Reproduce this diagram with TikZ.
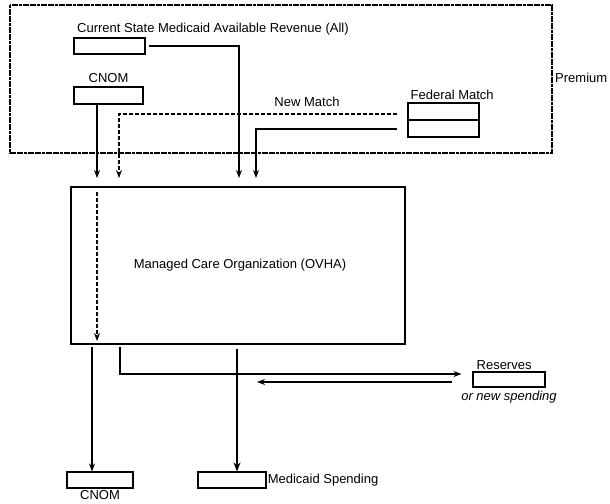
\documentclass[tikz,border=0pt]{standalone}
\usepackage{fontspec}
\setmainfont{Liberation Sans}
\usetikzlibrary{arrows.meta}

\begin{document}
\begin{tikzpicture}[
    x=1pt, y=-1pt, every node/.style={font=\fontsize{13}{15}\selectfont},
    accBox/.style={rectangle, draw, line width=1.1pt, inner sep=0pt, minimum width=70pt, minimum height=16pt},
    mcoBox/.style={rectangle, draw, line width=1.8pt, minimum width=334pt, minimum height=157pt},
    premBox/.style={draw, line width=1.1pt, dash pattern=on 3pt off 0.6pt},
    flow/.style={draw, line width=1.2pt, -{Stealth[length=8pt, width=6pt]}},
    newFlow/.style={flow, dash pattern=on 4pt off 2pt},
    bigFlow/.style={flow, line width=2.8pt, -{Stealth[length=9pt, width=7pt]}}
]
    \useasboundingbox (0,0) rectangle (610,503);

    \draw[premBox] (10,5) rectangle (552,153);
    \node[anchor=west, inner sep=1pt] (prem) at (554,78) {Premium};

    \node[accBox, minimum width=71pt] (rev) at (109.5,46) {};
    \node[anchor=south west, inner sep=1pt] (revLbl) at (76,36) {Current State Medicaid Available Revenue (All)};
    \node[accBox, minimum width=69pt, minimum height=17pt] (cnomIn) at (108.5,95.5) {};
    \node[above=0pt] (cnomInLbl) at (cnomIn.north) {CNOM};
    \node[accBox, minimum width=71pt, minimum height=17pt] (fedA) at (443.5,111.5) {};
    \node[accBox, minimum width=71pt, minimum height=17pt] (fedB) at (443.5,128.5) {};
    \node[anchor=south west, inner sep=1pt] (fedLbl) at ([xshift=2pt,yshift=2pt]fedA.north west) {Federal Match};
    \node (newLbl) at (307,102) {New Match};

    \node[mcoBox] (mco) at (238,265.5) {};
    \node (mcoLbl) at (240,265) {Managed Care Organization (OVHA)};

    \node[accBox, minimum width=66pt] (cnomOut) at (100,480) {};
    \node[below=-1.5pt] (cnomOutLbl) at (cnomOut.south) {CNOM};
    \node[accBox, minimum width=68pt] (med) at (232,480) {};
    \node[anchor=west, inner sep=1pt] (medLbl) at (med.east) {Medicaid Spending};
    \node[accBox, minimum width=72pt, minimum height=15pt] (res) at (509,379.5) {};
    \node[anchor=south west, inner sep=1pt] (resLbl) at ([xshift=3pt,yshift=1pt]res.north west) {Reserves};
    \node[below=0pt, font=\fontsize{13}{15}\selectfont\itshape] (resLbl2) at (res.south) {or new spending};

    \coordinate (inCnom) at (97,187);
    \coordinate (inNew) at (119,187);
    \coordinate (inRev) at (239,187);
    \coordinate (inFed) at (256,187);
    \coordinate (dashEnd) at (97,341);
    \coordinate (outCnom) at (92,344);
    \coordinate (outRes) at (120,344);
    \coordinate (outMed) at (237,344);
    \coordinate (retEnd) at (257,382);

    \draw[flow, shorten <=3pt, shorten >=9pt] (rev.east) -| (inRev);
    \draw[flow, shorten >=9pt] (cnomIn.south -| inCnom) -- (inCnom);
    \draw[newFlow, shorten <=10pt, shorten >=9pt] ([yshift=-2.5pt]fedA.west) -| (inNew);
    \draw[flow, shorten <=10pt, shorten >=9pt] ([yshift=-0.5pt]fedB.west) -| (inFed);
    \draw[newFlow, shorten <=5pt] (inCnom) -- (dashEnd);

    \draw[flow, shorten <=3pt] (outCnom) -- (outCnom |- cnomOut.north);
    \draw[bigFlow, shorten <=5pt] (outMed) -- (outMed |- med.north);
    \draw[flow, shorten <=3pt, shorten >=11pt] (outRes) |- ([yshift=5.5pt]res.west);
    \draw[flow, shorten <=20pt] ([yshift=-2.5pt]res.west) -- (retEnd);
\end{tikzpicture}
\end{document}
